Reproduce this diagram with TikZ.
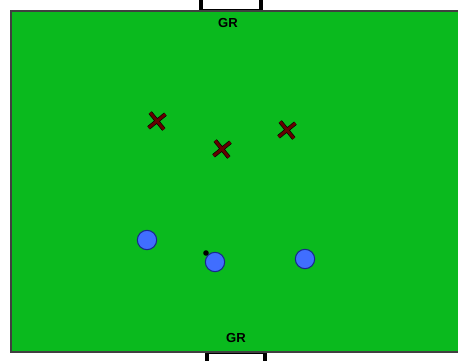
\documentclass[tikz,border=0pt]{standalone}
\usepackage{fontspec}
\setsansfont{Liberation Sans}
\usetikzlibrary{shapes.misc}
\definecolor{pitch}{RGB}{10,186,30}
\definecolor{defender}{RGB}{100,0,0}
\definecolor{attacker}{RGB}{64,110,255}
\definecolor{attackline}{RGB}{25,40,140}

\begin{document}
\begin{tikzpicture}[
        x=0.75pt, y=-0.75pt,
        field/.style={fill=pitch, draw=black!75, line width=1.1pt},
        goal/.style={fill=white, draw=black, line width=2.6pt},
        defend/.style={cross out, draw=black, line width=0.5pt, double=defender, double distance=2.1pt, minimum size=11pt, inner sep=0pt, rotate=-6},
        attack/.style={circle, fill=attacker, draw=attackline, line width=0.8pt, minimum size=14.5pt, inner sep=0pt},
        ball/.style={circle, fill=black, minimum size=4.2pt, inner sep=0pt},
        keeper/.style={font=\sffamily\bfseries\fontsize{9.8}{10}\selectfont, inner sep=0pt}
    ]
        \useasboundingbox (0,0) rectangle (458,361);
        % Terrain et buts
        \draw[goal] (201,-5) rectangle (261,11);
        \draw[goal] (207,366) rectangle (265,352);
        \draw[field] (11,11) -- (470,11) -- (470,352) -- (11,352) -- cycle;

        % Gardiens
        \node[keeper] (GR1) at (228,23) {GR};
        \node[keeper] (GR2) at (236,338) {GR};

        % Défenseurs
        \node[defend] (D1) at (157,121) {};
        \node[defend] (D2) at (222,149) {};
        \node[defend] (D3) at (287,130) {};

        % Attaquants et ballon
        \node[attack] (A1) at (147,240) {};
        \node[attack] (A2) at (215,262) {};
        \node[attack] (A3) at (305,259) {};
        \node[ball] (B) at (206,253) {};
    \end{tikzpicture}
\end{document}
